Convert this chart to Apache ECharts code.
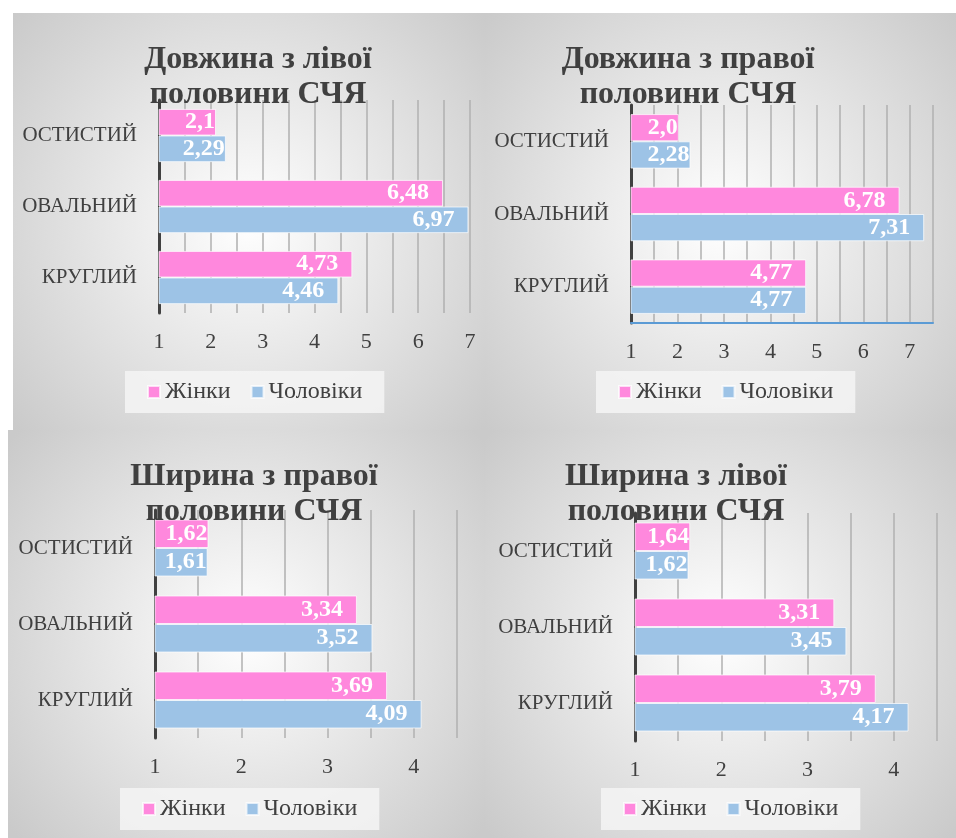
<!DOCTYPE html>
<html>
<head>
<meta charset="utf-8">
<script src="https://cdn.jsdelivr.net/npm/echarts@6/dist/echarts.min.js"></script>
<style>
body { margin: 0; background: #fff; width: 956px; height: 838px; position: relative; overflow: hidden; }
.panel { position: absolute; }
</style>
</head>
<body>
<div id="p1" class="panel" style="left:13px;top:13px;width:472px;height:417px"></div>
<div id="p2" class="panel" style="left:485px;top:13px;width:471px;height:417px"></div>
<div id="p3" class="panel" style="left:8px;top:430px;width:477px;height:408px"></div>
<div id="p4" class="panel" style="left:485px;top:430px;width:471px;height:408px"></div>
<script>
// categories bottom -> top (echarts puts the first category at the bottom)
var categories = ['КРУГЛИЙ', 'ОВАЛЬНИЙ', 'ОСТИСТИЙ'];
var seriesNames = ['Жінки', 'Чоловіки'];

var lenLeftWomen  = [4.73, 6.48, 2.1];
var lenLeftMen    = [4.46, 6.97, 2.29];
var lenRightWomen = [4.77, 6.78, 2.03];
var lenRightMen   = [4.77, 7.31, 2.28];
var widRightWomen = [3.69, 3.34, 1.62];
var widRightMen   = [4.09, 3.52, 1.61];
var widLeftWomen  = [3.79, 3.31, 1.64];
var widLeftMen    = [4.17, 3.45, 1.62];

var ticksLong  = [1, 2, 3, 4, 5, 6, 7];
var ticksShort = [1, 2, 3, 4];

var pink = '#ff88dd';
var blue = '#9dc3e6';
var textGray = '#404040';
var serif = '"Liberation Serif", "Times New Roman", serif';
var labelFont = 'bold 24px "Liberation Serif"';

var measureCtx = document.createElement('canvas').getContext('2d');
function textWidth(s) {
    measureCtx.font = labelFont;
    return measureCtx.measureText(s).width;
}
function fmt(v) { return String(v).replace('.', ','); }

function makePanel(id, cfg)
{
    var chart = echarts.init(document.getElementById(id));

    function barSeries(name, data, color) {
        return {
            name: name,
            type: 'bar',
            data: data,
            barGap: '0%',
            barCategoryGap: '25%',
            itemStyle: { color: color, borderColor: 'rgba(255,255,255,0.7)', borderWidth: 1 },
            label: {
                show: true,
                position: 'insideRight',
                distance: 14,
                color: '#fff',
                fontFamily: serif,
                fontWeight: 'bold',
                fontSize: 24,
                formatter: function (p) { return fmt(p.value); }
            }
        };
    }

    var option = {
        backgroundColor: {
            type: 'radial', x: 0.5, y: 0.5, r: 0.75,
            colorStops: [{ offset: 0, color: '#ffffff' }, { offset: 1, color: '#cacaca' }]
        },
        textStyle: { fontFamily: serif },
        title: {
            text: cfg.title,
            left: cfg.titleX,
            top: cfg.titleTop,
            textAlign: 'center',
            textStyle: { fontFamily: serif, fontWeight: 'bold', fontSize: 32, lineHeight: 35, color: textGray }
        },
        legend: {
            data: seriesNames,
            left: cfg.legendLeft,
            top: 358,
            icon: 'rect',
            itemWidth: 12,
            itemHeight: 12,
            itemGap: 20,
            padding: [9, 22],
            backgroundColor: 'rgba(244,244,244,0.85)',
            textStyle: { fontFamily: serif, fontSize: 24, color: textGray }
        },
        grid: cfg.grid,
        xAxis: {
            type: 'value',
            min: 1,
            max: cfg.max,
            interval: 1,
            axisLine: { show: cfg.bottomLine, lineStyle: { color: '#5b9bd5', width: 2 } },
            axisTick: { show: false },
            minorTick: { show: false, splitNumber: 2 },
            splitLine: { show: true, lineStyle: { color: '#b0b0b0', width: 1.5 } },
            minorSplitLine: { show: true, lineStyle: { color: '#b0b0b0', width: 1.5 } },
            axisLabel: {
                margin: 18,
                fontFamily: serif,
                fontSize: 22,
                color: textGray,
                formatter: function (v) { return cfg.ticks.indexOf(v) >= 0 ? String(v) : ''; }
            }
        },
        yAxis: {
            type: 'category',
            data: categories,
            axisLine: { show: true, lineStyle: { color: textGray, width: 3 } },
            axisTick: { show: false },
            axisLabel: { margin: 22, fontFamily: serif, fontSize: 21, color: textGray }
        },
        series: [
            barSeries(seriesNames[0], cfg.women, pink),
            barSeries(seriesNames[1], cfg.men, blue)
        ]
    };
    chart.setOption(option);

    // short bars: label hugs the bar end and gets cut, like the original
    var base = chart.convertToPixel({ xAxisIndex: 0 }, 1);
    function fitLabels(data) {
        return data.map(function (v) {
            var len = chart.convertToPixel({ xAxisIndex: 0 }, v) - base;
            var tw = textWidth(fmt(v));
            if (tw + 30 <= len) return v;
            return {
                value: v,
                label: { distance: 1, width: len - 6, overflow: 'truncate', ellipsis: '' }
            };
        });
    }
    chart.setOption({ series: [{ data: fitLabels(cfg.women) }, { data: fitLabels(cfg.men) }] });
}

makePanel('p1', {
    title: 'Довжина з лівої\nполовини СЧЯ', titleX: 240, titleTop: 24,
    women: lenLeftWomen, men: lenLeftMen, max: 7, ticks: ticksLong,
    grid: { left: 146, top: 87, width: 311, height: 213 },
    legendLeft: 112, bottomLine: false
});
makePanel('p2', {
    title: 'Довжина з правої\nполовини СЧЯ', titleX: 198, titleTop: 24,
    women: lenRightWomen, men: lenRightMen, max: 7.5, ticks: ticksLong,
    grid: { left: 146, top: 92, width: 302, height: 218 },
    legendLeft: 111, bottomLine: true
});
makePanel('p3', {
    title: 'Ширина з правої\nполовини СЧЯ', titleX: 241, titleTop: 24,
    women: widRightWomen, men: widRightMen, max: 4.5, ticks: ticksShort,
    grid: { left: 147, top: 80, width: 302, height: 228 },
    legendLeft: 112, bottomLine: false
});
makePanel('p4', {
    title: 'Ширина з лівої\nполовини СЧЯ', titleX: 186, titleTop: 24,
    women: widLeftWomen, men: widLeftMen, max: 4.5, ticks: ticksShort,
    grid: { left: 150, top: 83, width: 302, height: 228 },
    legendLeft: 116, bottomLine: false
});
</script>
</body>
</html>
